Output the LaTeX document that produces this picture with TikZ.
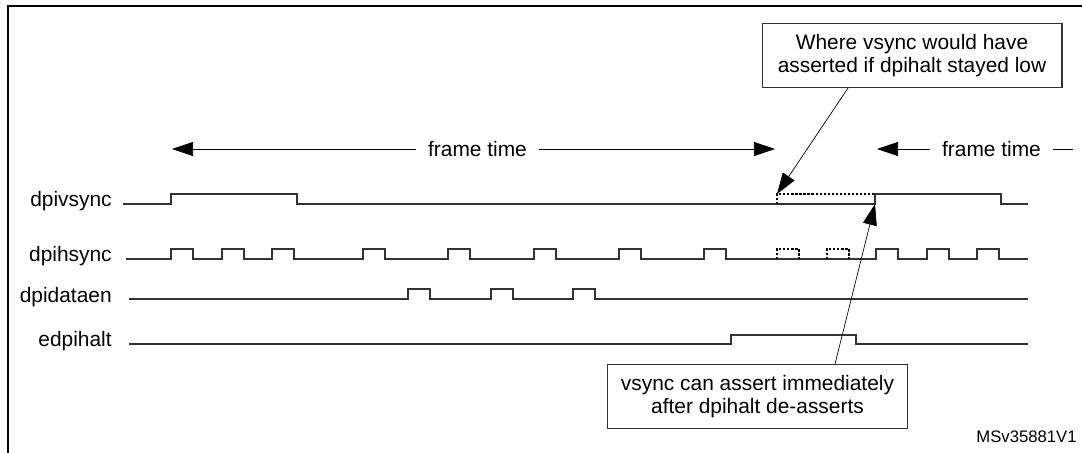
\documentclass[tikz,border=0pt]{standalone}
\usepackage{fontspec}
\setmainfont{Liberation Sans}
\usetikzlibrary{arrows.meta}

\begin{document}
\begin{tikzpicture}[x=0.02cm,y=-0.02cm,
  every node/.style={font=\fontsize{11.9}{13}\selectfont,inner sep=0pt},
  sig/.style={draw=black!80,line width=0.6pt},
  ghost/.style={draw=black,line width=0.6pt,dash pattern=on 1.3pt off 1pt},
  lbl/.style={anchor=east},
  span/.style={inner xsep=0.24cm},
  note/.style={draw=black!80,line width=0.6pt,align=center,minimum width=6cm,minimum height=1.28cm},
  >={Triangle[length=12pt,width=8pt]}]
\useasboundingbox (0,0) rectangle (1082,453);
\draw[line width=1.1pt] (8,453) -- (8,6) -- (1082,6);
% signal names
\node[lbl] (lv) at (112,201) {dpivsync};
\node[lbl] (lh) at (112,256) {dpihsync};
\node[lbl] (ld) at (112,297) {dpidataen};
\node[lbl] (le) at (112,341) {edpihalt};
% frame time spans
\node[span] (ft1) at (477.5,149) {frame time};
\node[span] (ft2) at (991.5,149) {frame time};
\coordinate (ft1l) at (172,149);
\coordinate (ft1r) at (775,149);
\coordinate (ft2l) at (877,149);
\coordinate (ft2r) at (1073,149);
\draw[->] (ft1) -- (ft1l);
\draw[->] (ft1) -- (ft1r);
\draw[->] (ft2) -- (ft2l);
\draw (ft2) -- (ft2r);
% waveforms
\draw[sig] (123,204) -- (171,204) -- (171,194) -- (297,194) -- (297,204) -- (875,204)
  -- (875,194) -- (1001,194) -- (1001,204) -- (1028,204);
\draw[ghost] (777,204) -- (777,194) -- (875,194);
\draw[sig] (126,259) foreach \x in {171,222,272,363,448,534,619,704}
  { -- (\x,259) -- (\x,249) -- (\x+22,249) -- (\x+22,259) } -- (876,259)
  foreach \x in {876,927,977} { -- (\x,259) -- (\x,249) -- (\x+22,249) -- (\x+22,259) } -- (1028,259);
\foreach \x in {777,827}
  \draw[ghost] (\x,259) -- (\x,249) -- (\x+22,249) -- (\x+22,259);
\draw[sig] (129,299) foreach \x in {408,491,573}
  { -- (\x,299) -- (\x,289) -- (\x+22,289) -- (\x+22,299) } -- (1028,299);
\draw[sig] (129,344) -- (731,344) -- (731,335) -- (856,335) -- (856,344) -- (1028,344);
% callouts
\node[note] (n1) at (912,55.5) {Where vsync would have\\asserted if dpihalt stayed low};
\node[note] (n2) at (757.5,396.5) {vsync can assert immediately\\after dpihalt de-asserts};
\coordinate (tip1) at (777,194);
\coordinate (tip2) at (875,204);
\draw[->] ([xshift=-1.28cm]n1.south) -- (tip1);
\draw[->] ([xshift=1.55cm]n2.north) -- (tip2);
\node[anchor=east,font=\fontsize{9.5}{11}\selectfont] (id) at (1077,437) {MSv35881V1};
\end{tikzpicture}
\end{document}
